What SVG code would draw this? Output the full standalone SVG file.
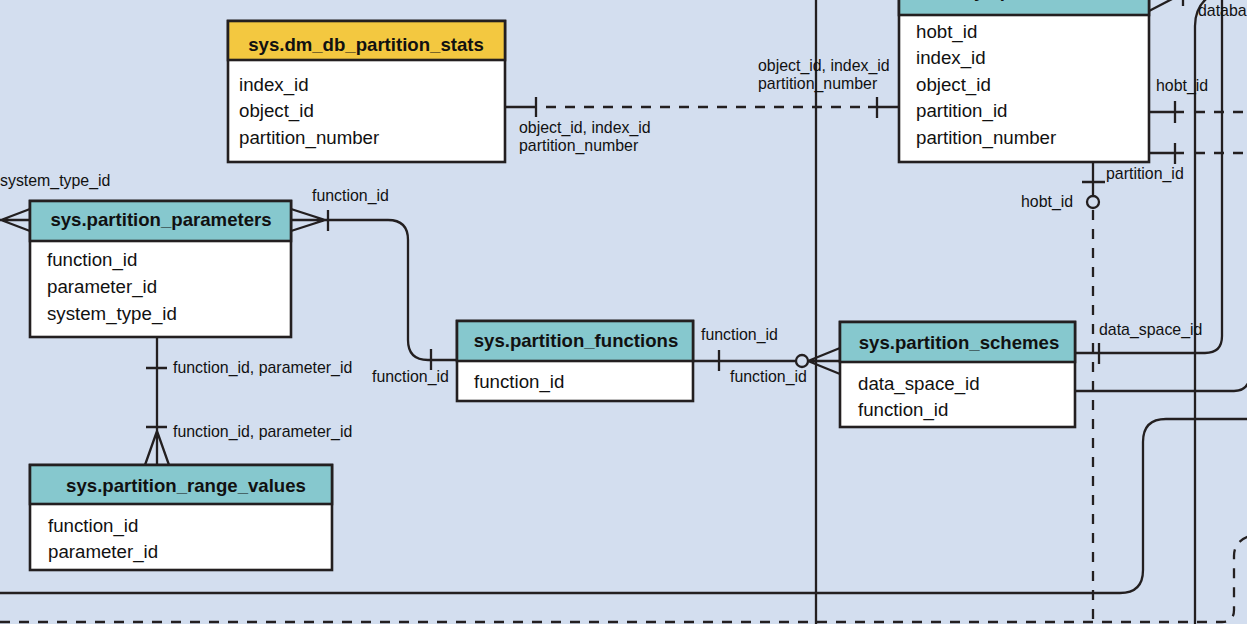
<svg xmlns="http://www.w3.org/2000/svg" width="1247" height="624" viewBox="0 0 1247 624">
<defs>
<style>
.box{fill:#ffffff;stroke:#231f20;stroke-width:2.6}
.hdr{fill:#86c8ce;stroke:#231f20;stroke-width:2.6}
.hdry{fill:#f3c840;stroke:#231f20;stroke-width:2.6}
.title{font-family:"Liberation Sans",Arial,sans-serif;font-weight:bold;font-size:18.6px;fill:#111;text-anchor:middle}
.row{font-family:"Liberation Sans",Arial,sans-serif;font-size:18.7px;fill:#111}
.lbl{font-family:"Liberation Sans",Arial,sans-serif;font-size:15.9px;fill:#111}
.ln{fill:none;stroke:#231f20;stroke-width:2.3}
.dash{fill:none;stroke:#231f20;stroke-width:2.3;stroke-dasharray:10 9}
.circ{fill:#d3deef;stroke:#231f20;stroke-width:2.3}
</style>
</defs>
<rect x="0" y="0" width="1247" height="624" fill="#d3deef"/>

<g id="connectors">
  <path class="ln" d="M816,0 V624"/>
  <path class="ln" d="M1195,624 V26 Q1195,6 1210,-4"/>
  <path class="ln" d="M1222,-2 V336 Q1222,353 1205,353 H1075"/>
  <path class="ln" d="M1099,343 V364"/>
  <path class="ln" d="M1075,391 H1234 Q1247,391 1250,378"/>
  <path class="ln" d="M0,593 H1120 Q1143,593 1143,570 V442 Q1143,419 1166,419 H1250"/>
  <path class="dash" d="M0,622 H1222 Q1234,622 1234,610 V556 Q1234,541 1250,536"/>

  <path class="ln" d="M505,107 H536 M536,97 V117"/>
  <path class="dash" d="M546,107 H868"/>
  <path class="ln" d="M868,107 H899 M877,97 V118"/>

  <path class="ln" d="M1149,112 H1184 M1175,101 V123"/>
  <path class="dash" d="M1195,112 H1250"/>
  <path class="ln" d="M1149,153 H1184 M1175,143 V164"/>
  <path class="dash" d="M1195,153 H1250"/>

  <path class="ln" d="M1149,11 L1174,-2 M1183,-6 V6"/>

  <path class="ln" d="M1093,162 V196 M1082,182 H1105"/>
  <circle class="circ" cx="1093" cy="202" r="6"/>
  <path class="dash" d="M1093,210 V624"/>

  <path class="ln" d="M30,209 L1,220 L30,231 M-5,220 H30"/>

  <path class="ln" d="M291,209 L325,220 L291,231 M291,220 H388 Q408,220 408,240 V340 Q408,360 428,360 H457"/>
  <path class="ln" d="M328,210 V231 M431,349 V370"/>

  <path class="ln" d="M157,337 V465 M146,368 H167 M146,427 H167 M145,465 L157,431 L169,465"/>

  <path class="ln" d="M693,361 H796 M719,350 V371"/>
  <circle class="circ" cx="802" cy="361" r="6"/>
  <path class="ln" d="M808,361 L840,348 M808,361 L840,374 M808,361 H840"/>

  <text class="lbl" x="0" y="186">system_type_id</text>
  <text class="lbl" x="312" y="201">function_id</text>
  <text class="lbl" x="372" y="382">function_id</text>
  <text class="lbl" x="173" y="373">function_id, parameter_id</text>
  <text class="lbl" x="173" y="437">function_id, parameter_id</text>
  <text class="lbl" x="519" y="133">object_id, index_id</text>
  <text class="lbl" x="519" y="151">partition_number</text>
  <text class="lbl" x="758" y="71">object_id, index_id</text>
  <text class="lbl" x="758" y="89">partition_number</text>
  <text class="lbl" x="701" y="340">function_id</text>
  <text class="lbl" x="730" y="382">function_id</text>
  <text class="lbl" x="1099" y="335">data_space_id</text>
  <text class="lbl" x="1156" y="91">hobt_id</text>
  <text class="lbl" x="1106" y="179">partition_id</text>
  <text class="lbl" x="1021" y="207">hobt_id</text>
  <text class="lbl" x="1198" y="16">databa</text>
</g>

<g id="sys.dm_db_partition_stats">
  <rect class="box" x="228" y="21" width="277" height="141"/>
  <rect class="hdry" x="228" y="21" width="277" height="39"/>
  <text class="title" x="366" y="51">sys.dm_db_partition_stats</text>
  <text class="row" x="239" y="91">index_id</text>
  <text class="row" x="239" y="117">object_id</text>
  <text class="row" x="239" y="144">partition_number</text>
</g>

<g id="sys.partitions">
  <rect class="box" x="899" y="-30" width="250" height="192"/>
  <rect class="hdr" x="899" y="-30" width="250" height="45"/>
  <text class="title" x="1024" y="-3">sys.partitions</text>
  <text class="row" x="916" y="38">hobt_id</text>
  <text class="row" x="916" y="64">index_id</text>
  <text class="row" x="916" y="91">object_id</text>
  <text class="row" x="916" y="117">partition_id</text>
  <text class="row" x="916" y="144">partition_number</text>
</g>

<g id="sys.partition_parameters">
  <rect class="box" x="30" y="201" width="261" height="136"/>
  <rect class="hdr" x="30" y="201" width="261" height="40"/>
  <text class="title" x="161" y="226">sys.partition_parameters</text>
  <text class="row" x="47" y="266">function_id</text>
  <text class="row" x="47" y="293">parameter_id</text>
  <text class="row" x="47" y="320">system_type_id</text>
</g>

<g id="sys.partition_functions">
  <rect class="box" x="457" y="321" width="236" height="80"/>
  <rect class="hdr" x="457" y="321" width="236" height="40"/>
  <text class="title" x="576" y="347">sys.partition_functions</text>
  <text class="row" x="474" y="388">function_id</text>
</g>

<g id="sys.partition_schemes">
  <rect class="box" x="840" y="322" width="235" height="105"/>
  <rect class="hdr" x="840" y="322" width="235" height="40"/>
  <text class="title" x="959" y="349">sys.partition_schemes</text>
  <text class="row" x="858" y="390">data_space_id</text>
  <text class="row" x="858" y="416">function_id</text>
</g>

<g id="sys.partition_range_values">
  <rect class="box" x="30" y="465" width="302" height="105"/>
  <rect class="hdr" x="30" y="465" width="302" height="39"/>
  <text class="title" x="186" y="492">sys.partition_range_values</text>
  <text class="row" x="48" y="532">function_id</text>
  <text class="row" x="48" y="558">parameter_id</text>
</g>
</svg>
